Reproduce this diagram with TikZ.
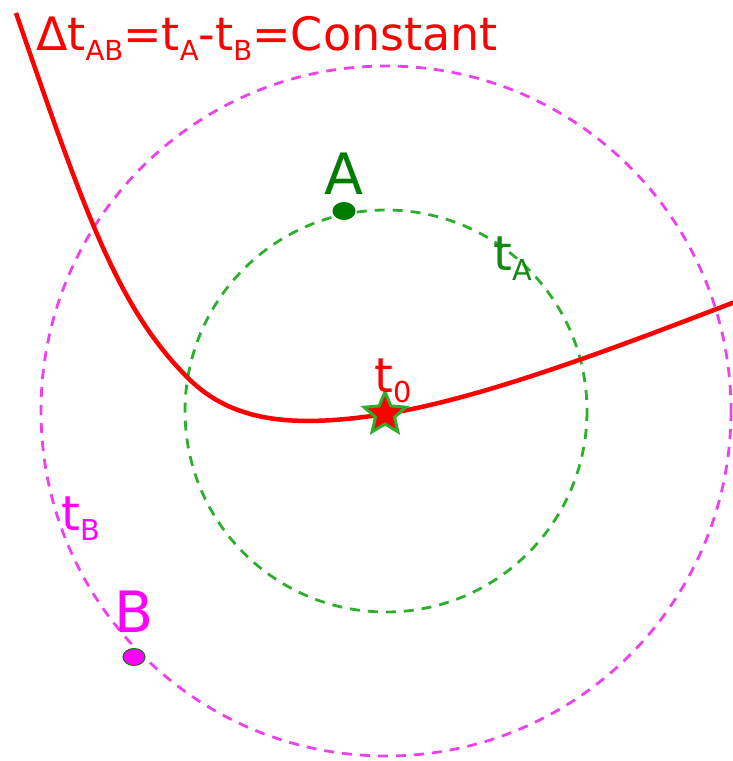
\documentclass[tikz,border=0pt]{standalone}
\usepackage{fontspec}
\setmainfont{DejaVu Sans}
\usetikzlibrary{positioning,shapes.geometric}
\definecolor{hypred}{RGB}{255,0,0}
\definecolor{stagreen}{RGB}{0,125,0}
\definecolor{ringgreen}{RGB}{45,175,45}
\definecolor{tagreen}{RGB}{20,135,20}
\definecolor{stamagenta}{RGB}{255,0,255}
\definecolor{ringmagenta}{RGB}{238,65,238}
\newcommand{\lowsub}[1]{\raisebox{-0.22em}{\scalebox{0.6}{#1}}}

\begin{document}
\begin{tikzpicture}[
  x=1pt, y=-1pt,
  station/.style={ellipse, draw=stagreen, line width=1pt, minimum width=22pt, minimum height=17pt, inner sep=0pt},
  ring/.style={dash pattern=on 10pt off 8pt, line width=2.8pt},
  hyperbola/.style={line width=4.5pt, color=hypred},
  tlabel/.style={font=\fontsize{48}{56}\selectfont, inner sep=0pt, anchor=base west},
  stlabel/.style={font=\fontsize{57}{66}\selectfont, inner sep=0pt}
]
  \useasboundingbox (0,0) rectangle (733,761);
  \coordinate (ctr) at (386,411);

  % arrival time circles
  \draw[ring, ringmagenta] (ctr) circle[radius=345];
  \draw[ring, ringgreen] (ctr) circle[radius=201];

  % constant time difference curve
  \coordinate (hypstart) at (16,13);
  \coordinate (hypknee) at (188,378);
  \coordinate (hypend) at (740,300);
  \draw[hyperbola] (hypstart) .. controls (86,216) and (118,308) .. (hypknee)
    .. controls (233,423) and (295,428) .. (385,414)
    .. controls (485,398) and (620,346) .. (hypend);

  \node[star, star points=5, star point ratio=2.2, minimum size=44pt, inner sep=0pt, fill=hypred, draw=ringgreen, line width=3pt] (src) at (385,414) {};
  \node[station, fill=stagreen] (dotA) at (344,211) {};
  \node[station, fill=stamagenta] (dotB) at (134,657) {};

  \node[stlabel, text=stagreen, above=7pt of dotA] (labA) {A};
  \node[stlabel, text=stamagenta, above=15pt of dotB] (labB) {B};

  \node[tlabel, text=hypred, font=\fontsize{46}{54}\selectfont] (title) at (40,50) {$\!$Δt\lowsub{AB}=t\lowsub{A}-t\lowsub{B}=Constant};
  \node[tlabel, text=tagreen] (tA) at (493,270) {t\lowsub{A}};
  \node[tlabel, text=hypred] (t0) at (374,392) {t\lowsub{0}};
  \node[tlabel, text=stamagenta] (tB) at (61,530) {t\lowsub{B}};
\end{tikzpicture}
\end{document}
